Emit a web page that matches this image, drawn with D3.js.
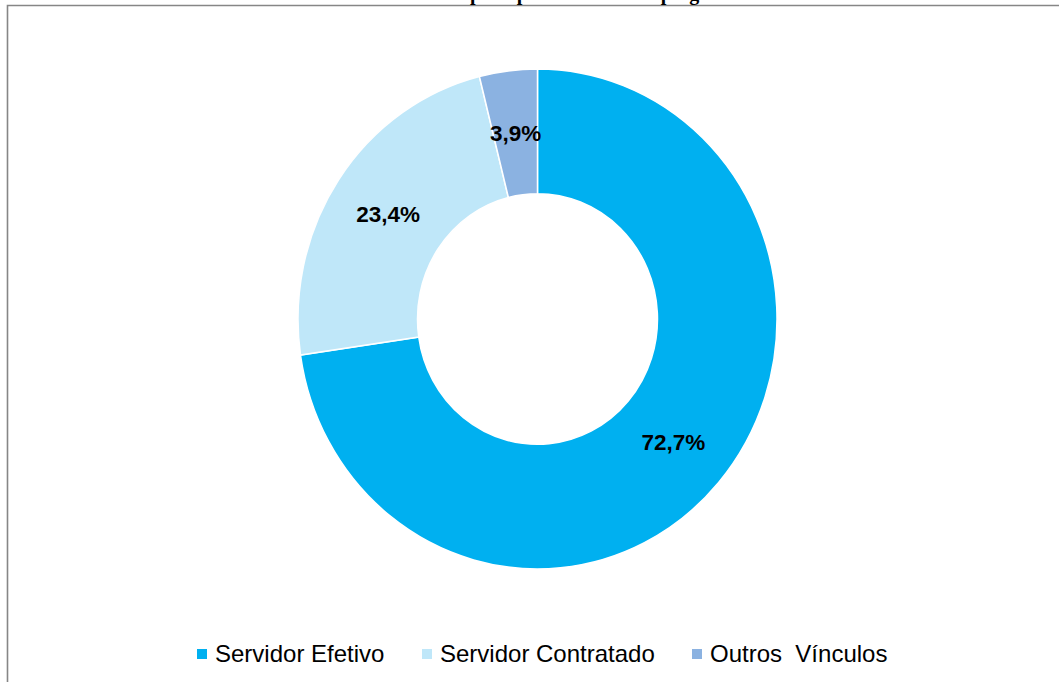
<!DOCTYPE html>
<html>
<head>
<meta charset="utf-8">
<script src="https://cdn.jsdelivr.net/npm/d3@7"></script>
<style>
  html, body { margin: 0; padding: 0; background: #fff; }
  svg { display: block; }
</style>
</head>
<body>
<svg id="chart" width="1059" height="682"></svg>
<script>
const categories = ["Servidor Efetivo", "Servidor Contratado", "Outros  Vínculos"];
const values = [72.7, 23.4, 3.9];
const labels = ["72,7%", "23,4%", "3,9%"];
const colors = ["#00B0F0", "#BFE7F9", "#8BB2E1"];
const titleText = "Servidores por tipo de vínculo empregatício";

const svg = d3.select("#chart");
const W = 1059, H = 682;

// frame
svg.append("path")
  .attr("d", `M7.5,${H} L7.5,5.5 L${W},5.5`)
  .attr("fill", "none")
  .attr("stroke", "#868686")
  .attr("stroke-width", 1.6);

// title (mostly cut off at top, as in the reference)
svg.append("text")
  .attr("x", 560).attr("y", 0)
  .attr("text-anchor", "middle")
  .attr("font-family", "Liberation Serif, Times New Roman, serif")
  .attr("font-weight", "bold")
  .attr("font-size", 20)
  .attr("fill", "#000")
  .text(titleText);

const cx = 537.5, cy = 319;
const rOuter = 239.5, rInner = 120;
const sy = 250 / 239.5;

const pie = d3.pie().sort(null).value(d => d.value);
const arcs = pie(categories.map((c, i) => ({ cat: c, value: values[i], label: labels[i], color: colors[i] })));
const arc = d3.arc().innerRadius(rInner).outerRadius(rOuter);

const g = svg.append("g").attr("transform", `translate(${cx},${cy}) scale(1,${sy})`);
g.selectAll("path.slice")
  .data(arcs)
  .enter().append("path")
  .attr("class", "slice")
  .attr("d", arc)
  .attr("fill", d => d.data.color)
  .attr("stroke", "#fff")
  .attr("stroke-width", 1.5);

const lg = svg.append("g").attr("transform", `translate(${cx},${cy})`);
lg.selectAll("text")
  .data(arcs)
  .enter().append("text")
  .attr("x", d => arc.centroid(d)[0])
  .attr("y", d => arc.centroid(d)[1] * sy)
  .attr("dy", "0.35em")
  .attr("text-anchor", "middle")
  .attr("font-family", "Liberation Sans, Arial, sans-serif")
  .attr("font-weight", "bold")
  .attr("font-size", 22.5)
  .attr("fill", "#000")
  .text(d => d.data.label);

// legend
const legendX = [197, 422, 692];
const leg = svg.append("g");
categories.forEach((c, i) => {
  leg.append("rect")
    .attr("x", legendX[i]).attr("y", 649)
    .attr("width", 10).attr("height", 10)
    .attr("fill", colors[i]);
  leg.append("text")
    .attr("x", legendX[i] + 18).attr("y", 654)
    .attr("dy", "0.35em")
    .attr("font-family", "Liberation Sans, Arial, sans-serif")
    .attr("font-size", 24)
    .attr("fill", "#000")
    .style("white-space", "pre")
    .text(c);
});
</script>
</body>
</html>
